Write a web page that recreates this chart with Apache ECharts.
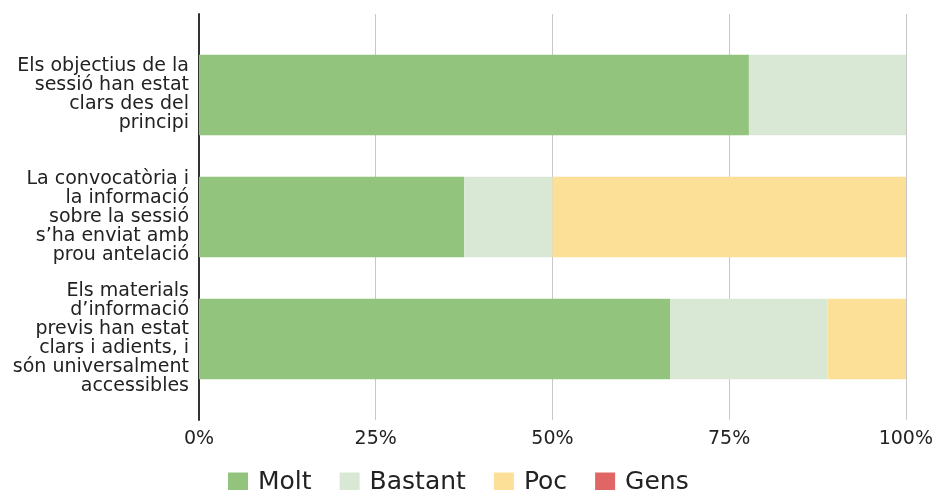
<!DOCTYPE html>
<html><head><meta charset="utf-8">
<script src="https://cdn.jsdelivr.net/npm/echarts@6/dist/echarts.min.js"></script>
<style>html,body{margin:0;padding:0;background:#fff}#c{width:936px;height:490px}</style>
</head><body><div id="c"></div>
<script>
const categories = [
  "Els objectius de la sessió han estat clars des del principi",
  "La convocatòria i la informació sobre la sessió s’ha enviat amb prou antelació",
  "Els materials d’informació previs han estat clars i adients, i són universalment accessibles"
];
const categoryLabels = [
  "Els objectius de la\nsessió han estat\nclars des del\nprincipi",
  "La convocatòria i\nla informació\nsobre la sessió\ns’ha enviat amb\nprou antelació",
  "Els materials\nd’informació\nprevis han estat\nclars i adients, i\nsón universalment\naccessibles"
];
const molt = [77.78, 37.5, 66.67];
const bastant = [22.22, 12.5, 22.22];
const poc = [0, 50, 11.11];
const gens = [0, 0, 0];
const xTicks = [0, 25, 50, 75, 100];

const FONT = 'DejaVu Sans';
const chart = echarts.init(document.getElementById('c'));
const mk = (name, data, color) => ({
  name, type: 'bar', stack: 'total', data, barCategoryGap: '34%',
  xAxisIndex: 1, yAxisIndex: 1,
  itemStyle: { color }, emphasis: { disabled: true }
});
chart.setOption({
  animation: false,
  textStyle: { fontFamily: FONT },
  grid: [
    { left: 199, right: 30, top: 14, bottom: 70 },
    { left: 199, right: 30, top: 34, bottom: 90 }
  ],
  legend: {
    top: 470, left: 228, padding: 0, itemWidth: 20, itemHeight: 20, itemGap: 28,
    icon: 'rect',
    textStyle: { fontSize: 25, color: '#222', fontFamily: FONT, padding: [0, 0, 0, 5] },
    data: ['Molt', 'Bastant', 'Poc', 'Gens']
  },
  xAxis: [{
    gridIndex: 0, type: 'value', min: xTicks[0], max: xTicks[xTicks.length - 1], interval: 25,
    axisLine: { show: false }, axisTick: { show: false },
    splitLine: { lineStyle: { color: '#c8c8c8', width: 1 } },
    axisLabel: { formatter: '{value}%', fontSize: 19, color: '#222', margin: 10, fontFamily: FONT }
  }, {
    gridIndex: 1, type: 'value', min: xTicks[0], max: xTicks[xTicks.length - 1], show: false,
    splitLine: { show: false }
  }],
  yAxis: [{
    gridIndex: 0, type: 'value', min: 0, max: 1,
    axisLine: { show: true, lineStyle: { color: '#333', width: 2 } },
    axisTick: { show: false }, axisLabel: { show: false }, splitLine: { show: false }
  }, {
    gridIndex: 1, type: 'category', data: categories, inverse: true,
    axisLine: { show: false }, axisTick: { show: false },
    axisLabel: {
      fontSize: 19, lineHeight: 19, color: '#222', align: 'right', margin: 10, fontFamily: FONT,
      formatter: (v, i) => categoryLabels[i]
    }
  }],
  series: [
    mk('Molt', molt, '#93c47d'),
    mk('Bastant', bastant, '#d9e7d5'),
    mk('Poc', poc, '#fde098'),
    mk('Gens', gens, '#e06666')
  ]
});
</script></body></html>
